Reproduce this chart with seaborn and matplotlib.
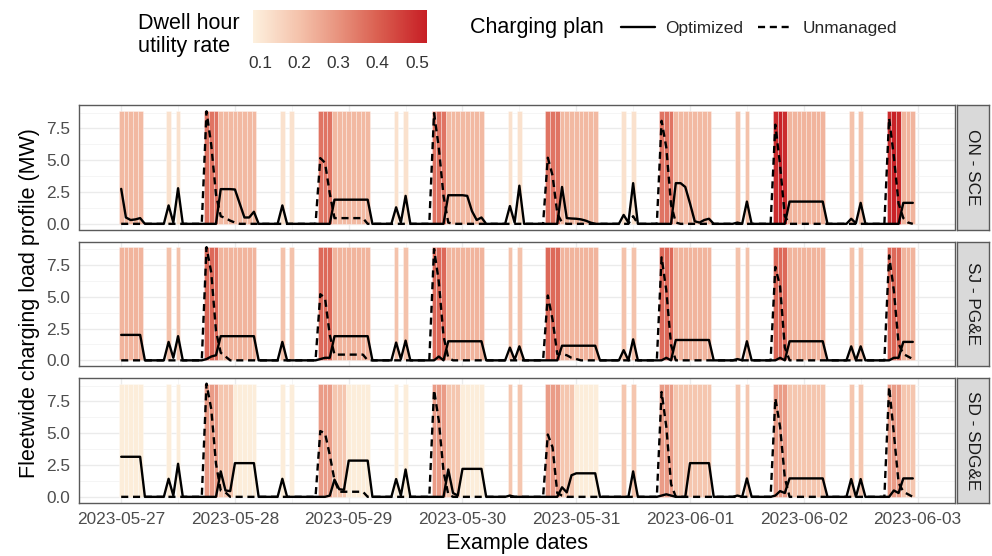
import numpy as np
import pandas as pd
import matplotlib
matplotlib.use("Agg")
import matplotlib.pyplot as plt
import seaborn as sns
from matplotlib.colors import LinearSegmentedColormap, Normalize
from matplotlib.cm import ScalarMappable

# ---------------- data ----------------
dates = ["2023-05-27", "2023-05-28", "2023-05-29", "2023-05-30",
         "2023-05-31", "2023-06-01", "2023-06-02", "2023-06-03"]
panels = ["ON - SCE", "SJ - PG&E", "SD - SDG&E"]
plans = ["Optimized", "Unmanaged"]

# hours of the day that are dwell hours (tiles)
dwell_hours = [0, 1, 2, 3, 4, 10, 12, 18, 19, 20, 21, 22, 23]

# utility rate for each dwell hour, one row per day (05-27 ... 06-02)
sce_rates = [
    [0.22, 0.22, 0.22, 0.22, 0.22, 0.12, 0.12, 0.36, 0.36, 0.36, 0.22, 0.22, 0.22],
    [0.22, 0.22, 0.22, 0.22, 0.22, 0.12, 0.12, 0.36, 0.36, 0.36, 0.22, 0.22, 0.22],
    [0.22, 0.22, 0.22, 0.22, 0.22, 0.12, 0.12, 0.36, 0.36, 0.36, 0.22, 0.22, 0.22],
    [0.22, 0.22, 0.22, 0.22, 0.22, 0.12, 0.12, 0.36, 0.36, 0.36, 0.22, 0.22, 0.22],
    [0.22, 0.22, 0.22, 0.22, 0.22, 0.12, 0.12, 0.36, 0.36, 0.36, 0.22, 0.22, 0.22],
    [0.22, 0.22, 0.22, 0.22, 0.22, 0.20, 0.20, 0.50, 0.52, 0.50, 0.23, 0.23, 0.23],
    [0.23, 0.23, 0.23, 0.23, 0.23, 0.20, 0.20, 0.50, 0.52, 0.50, 0.23, 0.23, 0.23],
]
pge_rates = [
    [0.23, 0.23, 0.23, 0.23, 0.23, 0.20, 0.20, 0.38, 0.38, 0.38, 0.23, 0.23, 0.23],
    [0.23, 0.23, 0.23, 0.23, 0.23, 0.20, 0.20, 0.38, 0.38, 0.38, 0.23, 0.23, 0.23],
    [0.23, 0.23, 0.23, 0.23, 0.23, 0.20, 0.20, 0.38, 0.38, 0.38, 0.23, 0.23, 0.23],
    [0.23, 0.23, 0.23, 0.23, 0.23, 0.20, 0.20, 0.38, 0.38, 0.38, 0.23, 0.23, 0.23],
    [0.23, 0.23, 0.23, 0.23, 0.23, 0.20, 0.20, 0.38, 0.38, 0.38, 0.23, 0.23, 0.23],
    [0.23, 0.23, 0.23, 0.23, 0.23, 0.20, 0.20, 0.38, 0.38, 0.38, 0.23, 0.23, 0.23],
    [0.23, 0.23, 0.23, 0.23, 0.23, 0.20, 0.20, 0.38, 0.38, 0.38, 0.23, 0.23, 0.23],
]
sdge_rates = [
    [0.09, 0.09, 0.09, 0.09, 0.09, 0.09, 0.09, 0.28, 0.28, 0.28, 0.19, 0.19, 0.19],
    [0.09, 0.09, 0.09, 0.09, 0.09, 0.09, 0.09, 0.28, 0.28, 0.28, 0.19, 0.19, 0.19],
    [0.09, 0.09, 0.09, 0.09, 0.09, 0.09, 0.09, 0.28, 0.28, 0.28, 0.19, 0.19, 0.19],
    [0.09, 0.09, 0.09, 0.09, 0.09, 0.19, 0.19, 0.28, 0.28, 0.28, 0.19, 0.19, 0.19],
    [0.09, 0.09, 0.09, 0.09, 0.09, 0.19, 0.19, 0.28, 0.28, 0.28, 0.19, 0.19, 0.19],
    [0.19, 0.19, 0.19, 0.19, 0.19, 0.19, 0.19, 0.28, 0.28, 0.28, 0.19, 0.19, 0.19],
    [0.19, 0.19, 0.19, 0.19, 0.19, 0.19, 0.19, 0.28, 0.28, 0.28, 0.19, 0.19, 0.19],
]

# hourly charging load (MW), one row of 24 hours per day (05-27 ... 06-02)
sce_opt = [
    [2.75, 0.5, 0.3, 0.35, 0.45, 0, 0, 0, 0, 0, 1.45, 0.1, 2.8, 0, 0, 0, 0, 0, 0, 0, 0, 2.73, 2.73, 2.73],
    [2.7, 1.6, 0.5, 0.5, 0.95, 0, 0, 0, 0, 0, 1.45, 0, 0, 0, 0, 0, 0, 0, 0, 0, 0, 1.9, 1.9, 1.9],
    [1.9, 1.9, 1.9, 1.9, 1.9, 0, 0, 0, 0, 0, 1.3, 0.1, 2.2, 0, 0, 0, 0, 0, 0, 0, 0, 2.25, 2.25, 2.25],
    [2.25, 2.2, 1.0, 0.3, 0.5, 0, 0, 0, 0, 0, 1.4, 0.1, 3.0, 0, 0, 0, 0, 0, 0, 0, 0, 2.9, 0.45, 0.42],
    [0.4, 0.35, 0.25, 0.1, 0, 0, 0, 0, 0, 0, 0.7, 0.1, 3.2, 0, 0, 0, 0, 0, 0, 0, 0, 3.2, 3.2, 2.9],
    [1.6, 0.2, 0.1, 0.3, 0.4, 0, 0, 0, 0, 0, 0.1, 0, 1.75, 0, 0, 0, 0, 0, 0, 0, 0, 1.75, 1.75, 1.75],
    [1.75, 1.75, 1.75, 1.75, 1.75, 0, 0, 0, 0, 0, 0.4, 0.05, 1.65, 0, 0, 0, 0, 0, 0, 0, 0, 1.65, 1.65, 1.65],
]
sce_unm = [
    [0, 0, 0, 0, 0, 0, 0, 0, 0, 0, 0, 0, 0, 0, 0, 0, 0, 0, 8.85, 6.2, 2.3, 0.6, 0.45, 0.25],
    [0.1, 0, 0, 0, 0, 0, 0, 0, 0, 0, 0, 0, 0, 0, 0, 0, 0, 0, 5.17, 4.8, 2.4, 0.45, 0.45, 0.45],
    [0.45, 0.45, 0.45, 0.45, 0, 0, 0, 0, 0, 0, 0, 0, 0, 0, 0, 0, 0, 0, 8.7, 6.0, 2.2, 0.1, 0, 0],
    [0, 0, 0, 0, 0, 0, 0, 0, 0, 0, 0, 0, 0, 0, 0, 0, 0, 0, 5.2, 3.8, 0.8, 0.1, 0, 0],
    [0, 0, 0, 0, 0, 0, 0, 0, 0, 0, 0, 0, 0.6, 0, 0, 0, 0, 0, 8.1, 6.0, 1.5, 0.1, 0, 0],
    [0, 0, 0, 0, 0, 0, 0, 0, 0, 0, 0, 0, 0, 0, 0, 0, 0, 0, 7.8, 4.6, 0.6, 0, 0, 0],
    [0, 0, 0, 0, 0, 0, 0, 0, 0, 0, 0, 0, 0, 0, 0, 0, 0, 0, 8.3, 5.3, 1.6, 0.45, 0.1, 0],
]
pge_opt = [
    [2.0, 2.0, 2.0, 2.0, 2.0, 0, 0, 0, 0, 0, 1.45, 0.2, 1.9, 0, 0, 0, 0, 0, 0.1, 0.3, 0.4, 1.9, 1.9, 1.9],
    [1.9, 1.9, 1.9, 1.9, 1.9, 0, 0, 0, 0, 0, 1.45, 0, 0, 0, 0, 0, 0, 0, 0.1, 0.2, 0.2, 1.9, 1.9, 1.9],
    [1.9, 1.9, 1.9, 1.9, 1.9, 0, 0, 0, 0, 0, 1.4, 0.1, 1.55, 0, 0, 0, 0, 0, 0, 0.3, 0, 1.5, 1.5, 1.5],
    [1.5, 1.5, 1.5, 1.5, 1.5, 0, 0, 0, 0, 0, 1.0, 0.05, 1.1, 0, 0, 0, 0, 0, 0, 0, 0, 1.15, 1.15, 1.15],
    [1.15, 1.15, 1.15, 1.15, 1.15, 0, 0, 0, 0, 0, 0.8, 0, 1.65, 0, 0, 0, 0, 0, 0, 0.2, 0, 1.6, 1.6, 1.6],
    [1.6, 1.6, 1.6, 1.6, 1.6, 0, 0, 0, 0, 0, 0.1, 0, 1.5, 0, 0, 0, 0, 0, 0, 0.2, 0, 1.5, 1.5, 1.5],
    [1.5, 1.5, 1.5, 1.5, 1.5, 0, 0, 0, 0, 0, 1.1, 0, 1.1, 0, 0, 0, 0, 0, 0, 0.2, 0.2, 1.45, 1.45, 1.45],
]
pge_unm = [
    [0, 0, 0, 0, 0, 0, 0, 0, 0, 0, 0, 0, 0, 0, 0, 0, 0, 0, 8.9, 6.9, 2.3, 0.6, 0.3, 0],
    [0, 0, 0, 0, 0, 0, 0, 0, 0, 0, 0, 0, 0, 0, 0, 0, 0, 0, 5.2, 4.9, 2.0, 0.45, 0.45, 0.45],
    [0.45, 0.45, 0.45, 0.45, 0, 0, 0, 0, 0, 0, 0, 0, 0, 0, 0, 0, 0, 0, 8.75, 6.2, 1.9, 0.2, 0, 0],
    [0, 0, 0, 0, 0, 0, 0, 0, 0, 0, 0, 0, 0, 0, 0, 0, 0, 0, 5.1, 3.2, 0.5, 0.5, 0.4, 0.2],
    [0.1, 0, 0, 0, 0, 0, 0, 0, 0, 0, 0, 0, 0, 0, 0, 0, 0, 0, 8.1, 5.5, 1.2, 0, 0, 0],
    [0, 0, 0, 0, 0, 0, 0, 0, 0, 0, 0, 0, 0, 0, 0, 0, 0, 0, 7.35, 5.8, 1.0, 0, 0, 0],
    [0, 0, 0, 0, 0, 0, 0, 0, 0, 0, 0, 0, 0, 0, 0, 0, 0, 0, 8.25, 5.5, 1.3, 0.5, 0.3, 0.1],
]
sdge_opt = [
    [3.15, 3.15, 3.15, 3.15, 3.15, 0, 0, 0, 0, 0, 1.42, 0.1, 2.6, 0, 0, 0, 0, 0, 0, 0, 0, 2.0, 0.5, 0.45],
    [2.65, 2.65, 2.65, 2.65, 2.65, 0, 0, 0, 0, 0, 1.42, 0, 0, 0, 0, 0, 0, 0, 0, 0, 0.1, 1.35, 0.6, 0.55],
    [2.85, 2.85, 2.85, 2.85, 2.85, 0, 0, 0, 0, 0, 1.4, 0.1, 2.15, 0, 0, 0, 0, 0, 0, 0, 0, 2.15, 0.3, 0.1],
    [2.2, 2.2, 2.2, 2.2, 2.2, 0, 0, 0, 0, 0, 0.1, 0, 0, 0, 0, 0, 0, 0, 0, 0, 0, 0.75, 0.35, 1.7],
    [1.85, 1.85, 1.85, 1.85, 1.85, 0, 0, 0, 0, 0, 0, 0, 2.0, 0, 0, 0, 0, 0, 0.1, 0.2, 0.1, 0, 0, 0],
    [2.65, 2.65, 2.65, 2.65, 2.65, 0, 0, 0, 0, 0, 0.1, 0, 1.45, 0, 0, 0, 0, 0, 0.1, 0.45, 0.3, 1.45, 1.45, 1.45],
    [1.45, 1.45, 1.45, 1.45, 1.45, 0, 0, 0, 0, 0, 1.4, 0, 1.4, 0, 0, 0, 0, 0, 0, 0.5, 0.3, 1.45, 1.45, 1.45],
]
sdge_unm = [
    [0, 0, 0, 0, 0, 0, 0, 0, 0, 0, 0, 0, 0, 0, 0, 0, 0, 0, 8.9, 6.9, 2.6, 0.5, 0.35, 0],
    [0, 0, 0, 0, 0, 0, 0, 0, 0, 0, 0, 0, 0, 0, 0, 0, 0, 0, 5.17, 5.0, 3.3, 1.3, 0.4, 0.4],
    [0.4, 0.4, 0.4, 0.4, 0, 0, 0, 0, 0, 0, 0, 0, 0, 0, 0, 0, 0, 0, 8.4, 6.0, 2.0, 0.2, 0, 0],
    [0, 0, 0, 0, 0, 0, 0, 0, 0, 0, 0, 0, 0, 0, 0, 0, 0, 0, 4.9, 3.9, 0.3, 0.1, 0, 0],
    [0, 0, 0, 0, 0, 0, 0, 0, 0, 0, 0, 0, 0, 0, 0, 0, 0, 0, 8.25, 5.5, 1.0, 0, 0, 0],
    [0, 0, 0, 0, 0, 0, 0, 0, 0, 0, 0, 0, 0, 0, 0, 0, 0, 0, 7.75, 5.5, 1.5, 0, 0, 0],
    [0, 0, 0, 0, 0, 0, 0, 0, 0, 0, 0, 0, 0, 0, 0, 0, 0, 0, 8.65, 5.0, 1.1, 0.4, 0.2, 0],
]

rate_ticks = [0.1, 0.2, 0.3, 0.4, 0.5]
y_ticks = [0.0, 2.5, 5.0, 7.5]

# --------------- tidy tables ---------------
loads = {"ON - SCE": (sce_opt, sce_unm),
         "SJ - PG&E": (pge_opt, pge_unm),
         "SD - SDG&E": (sdge_opt, sdge_unm)}
rates = {"ON - SCE": sce_rates, "SJ - PG&E": pge_rates, "SD - SDG&E": sdge_rates}

rows = []
for p in panels:
    for plan, series in zip(plans, loads[p]):
        for d, day in enumerate(series):
            for h, v in enumerate(day):
                rows.append((p, plan, d * 24 + h, v))
load_df = pd.DataFrame(rows, columns=["panel", "plan", "hour", "load"])

trows = []
for p in panels:
    for d, day in enumerate(rates[p]):
        for h, r in zip(dwell_hours, day):
            trows.append((p, d * 24 + h, r))
tile_df = pd.DataFrame(trows, columns=["panel", "hour", "rate"])
tile_top = load_df["load"].max()

# --------------- style ---------------
sns.set_theme(style="white")
plt.rcParams["font.family"] = ["Liberation Sans", "DejaVu Sans"]

cmap = LinearSegmentedColormap.from_list(
    "dwell", [(0.0, "#FDF0DE"), (0.27, "#F4C1AA"), (0.49, "#E8937E"),
              (0.72, "#DA5F50"), (1.0, "#C71E25")])
norm = Normalize(vmin=0.081, vmax=0.526)

W, H = 992, 556
fig = plt.figure(figsize=(W / 100, H / 100), dpi=100)

px_left, px_right = 79, 955
panel_tops = [105, 241.5, 378]
panel_h = 124.5

tick_color = "#4D4D4D"
axes = []
for i, p in enumerate(panels):
    top = panel_tops[i]
    ax = fig.add_axes([px_left / W, 1 - (top + panel_h) / H,
                       (px_right - px_left) / W, panel_h / H])
    axes.append(ax)
    ax.set_axisbelow(True)
    ax.set_facecolor("white")
    # tiles
    tp = tile_df[tile_df["panel"] == p]
    ax.bar(tp["hour"], tile_top, width=1.0, bottom=0,
           color=cmap(norm(tp["rate"].to_numpy())),
           edgecolor=(1, 1, 1, 0.45), linewidth=0.5, zorder=1)
    # lines
    lp = load_df[load_df["panel"] == p]
    sns.lineplot(data=lp, x="hour", y="load", style="plan", style_order=plans,
                 dashes={"Optimized": "", "Unmanaged": (3.0, 2.0)},
                 color="black", linewidth=1.7, ax=ax, legend=(i == 0),
                 zorder=3, estimator=None)
    ax.set_xlim(-8.9, 175.9)
    ax.set_ylim(-0.445, 9.345)
    ax.set_yticks(y_ticks)
    ax.set_yticklabels([f"{t:.1f}" for t in y_ticks])
    ax.set_yticks([1.25, 3.75, 6.25, 8.75], minor=True)
    ax.set_xticks([24 * k for k in range(len(dates))])
    ax.set_xticks([24 * k + 12 for k in range(len(dates) - 1)], minor=True)
    if i == len(panels) - 1:
        ax.set_xticklabels(dates)
    else:
        ax.set_xticklabels([])
    ax.grid(which="major", color="#EBEBEB", linewidth=1.0)
    ax.grid(which="minor", color="#F4F4F4", linewidth=0.6)
    ax.tick_params(axis="both", which="major", length=4, width=0.8,
                   color="#333333", labelsize=12.4, labelcolor=tick_color, pad=2.5)
    ax.tick_params(axis="both", which="minor", length=0)
    if i != len(panels) - 1:
        ax.tick_params(axis="x", which="major", length=0)
    ax.set_xlabel("")
    ax.set_ylabel("")
    for s in ax.spines.values():
        s.set_color("#5A5A5A")
        s.set_linewidth(1.0)
        s.set_visible(True)
    # strip
    sax = fig.add_axes([957 / W, 1 - (top + panel_h) / H, 32 / W, panel_h / H])
    sax.set_facecolor("#D9D9D9")
    sax.set_xticks([])
    sax.set_yticks([])
    for s in sax.spines.values():
        s.set_color("#5A5A5A")
        s.set_linewidth(1.0)
    sax.text(0.5, 0.5, p, rotation=270, ha="center", va="center",
             fontsize=12.4, color="#1A1A1A", transform=sax.transAxes)

handles, labels = axes[0].get_legend_handles_labels()
axes[0].get_legend().remove()

fig.text(30 / W, 1 - 303.5 / H, "Fleetwide charging load profile (MW)",
         rotation=90, ha="center", va="center", fontsize=15.5, color="black")
fig.text(517 / W, 1 - 543 / H, "Example dates", ha="center", va="center",
         fontsize=15.5, color="black")

# colour legend
fig.text(138 / W, 1 - 35 / H, "Dwell hour\nutility rate", ha="left", va="center",
         fontsize=15.5, color="black", linespacing=1.12)
cax = fig.add_axes([253 / W, 1 - 43 / H, 174 / W, 33 / H])
cb = fig.colorbar(ScalarMappable(norm=norm, cmap=cmap), cax=cax,
                  orientation="horizontal", ticks=rate_ticks)
cb.outline.set_visible(False)
cb.ax.set_xticklabels([f"{t:.1f}" for t in rate_ticks])
cax.tick_params(axis="x", direction="in", length=6, width=0.8, color="white",
                top=True, bottom=True, labelsize=12.4, labelcolor="#333333", pad=9)

# linetype legend
fig.text(470 / W, 1 - 28 / H, "Charging plan", ha="left", va="center",
         fontsize=15.5, color="black")
fig.legend(handles, labels, loc="center left", bbox_to_anchor=(621 / W, 1 - 28 / H),
           ncol=2, frameon=False, fontsize=12.4, handlelength=2.0,
           handletextpad=0.55, columnspacing=0.9, borderpad=0, borderaxespad=0)

fig.savefig("out.png", dpi=100)
